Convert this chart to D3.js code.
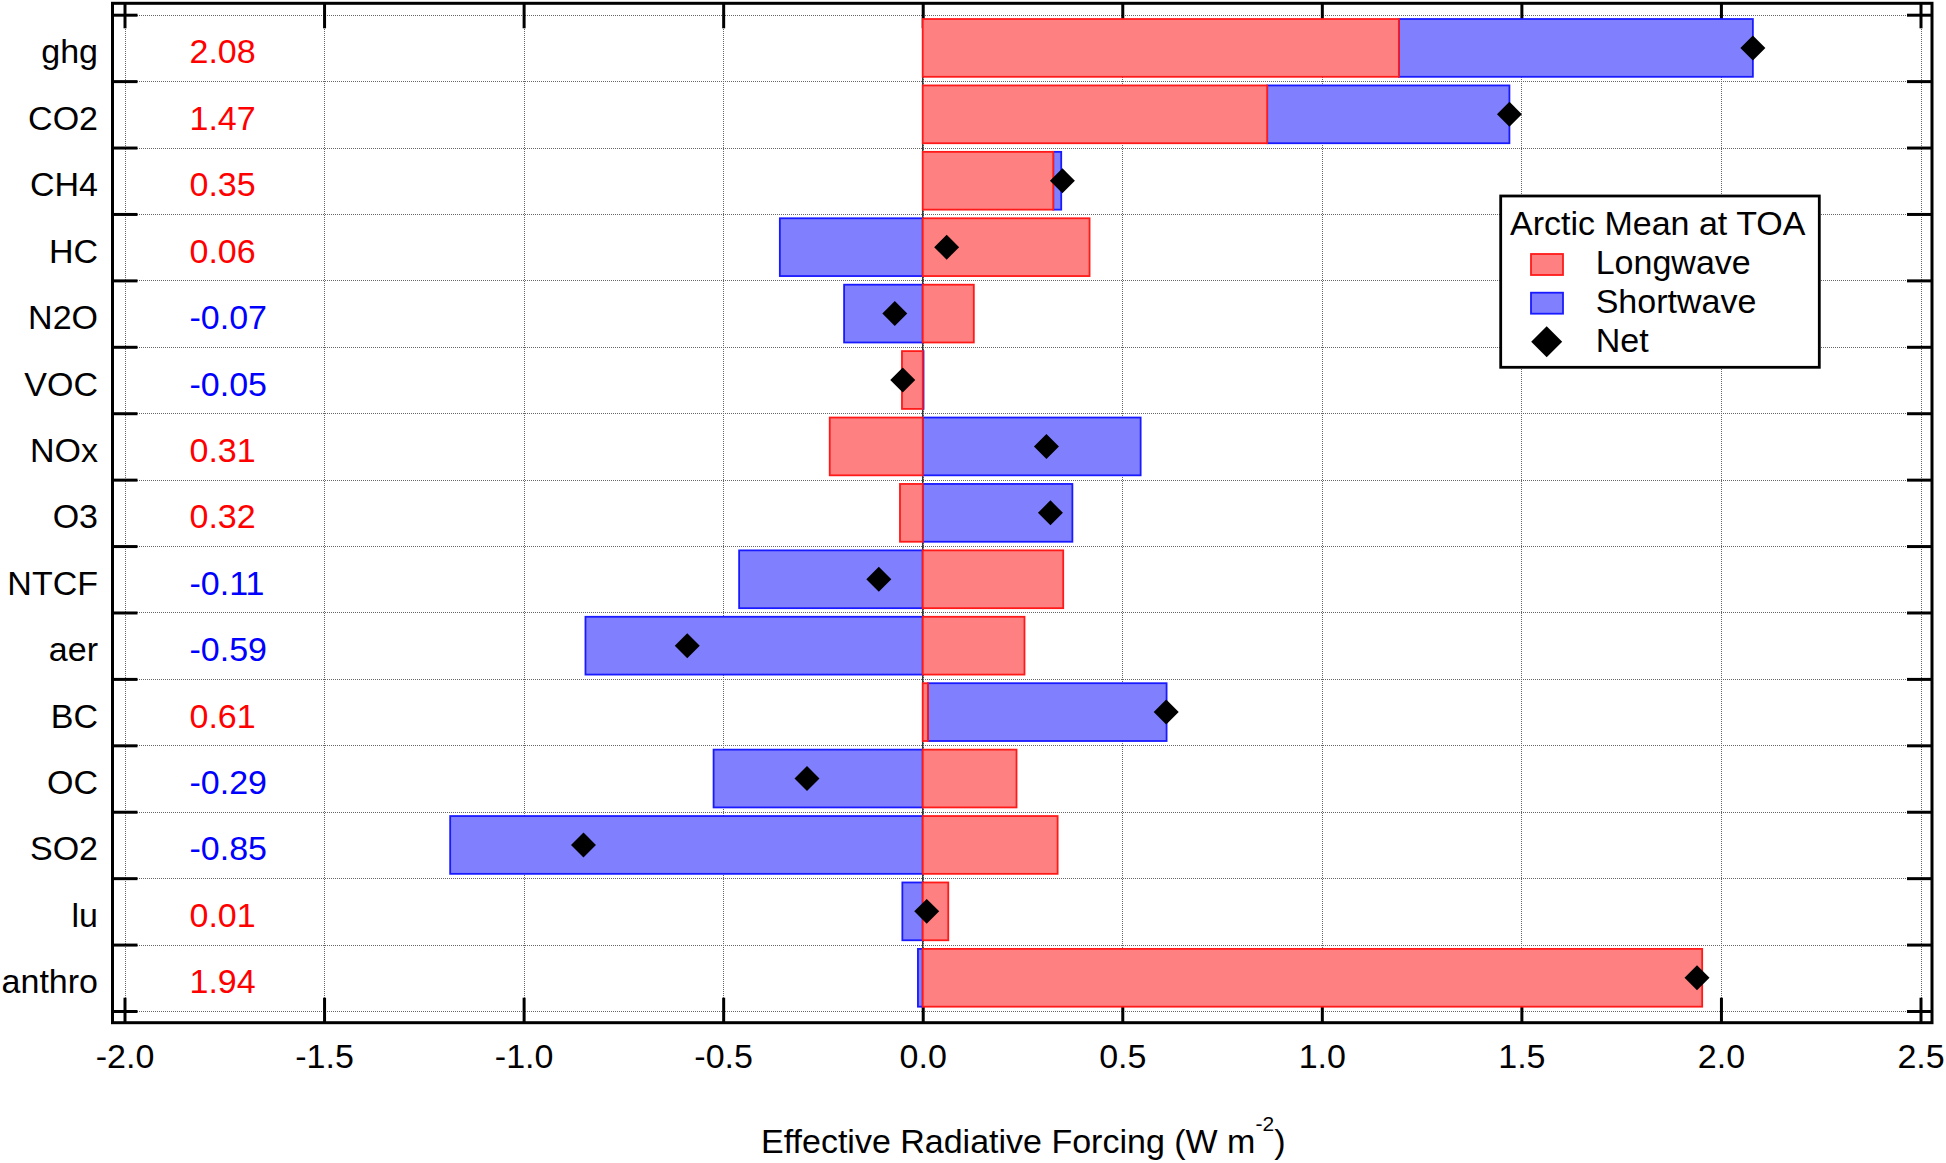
<!DOCTYPE html>
<html>
<head>
<meta charset="utf-8">
<script src="https://cdn.jsdelivr.net/npm/d3@7"></script>
<style>
  html, body { margin: 0; padding: 0; background: #ffffff; }
  svg { display: block; }
  text { font-family: "Liberation Sans", Arial, Helvetica, sans-serif; }
</style>
</head>
<body>
<script>
// ---------------- data ----------------
const categories = ["ghg", "CO2", "CH4", "HC", "N2O", "VOC", "NOx", "O3", "NTCF", "aer", "BC", "OC", "SO2", "lu", "anthro"];
const longwave  = [1.193, 0.863, 0.327, 0.418, 0.128, -0.052, -0.233, -0.057, 0.352, 0.255, 0.013, 0.235, 0.338, 0.064, 1.953];
const shortwave = [0.887, 0.607, 0.020, -0.358, -0.197, 0.002, 0.546, 0.375, -0.460, -0.845, 0.598, -0.524, -1.184, -0.051, -0.012];
const net       = [2.08, 1.47, 0.35, 0.06, -0.07, -0.05, 0.31, 0.32, -0.11, -0.59, 0.61, -0.29, -0.85, 0.01, 1.94];
const xTicks = [-2.0, -1.5, -1.0, -0.5, 0.0, 0.5, 1.0, 1.5, 2.0, 2.5];
const legendTitle = "Arctic Mean at TOA";
const legendLabels = ["Longwave", "Shortwave", "Net"];
const axisTitle = "Effective Radiative Forcing (W m";
const axisTitleSup = "-2";

// ---------------- layout ----------------
const W = 1946, H = 1163;
const frame = { left: 112.5, right: 1932, top: 3.3, bottom: 1022.7 };
const FS = 34;
const LW_FILL = "#ff8080", LW_STROKE = "#ff1a1a";
const SW_FILL = "#8080ff", SW_STROKE = "#1a1aff";
const locale = d3.formatLocale({ decimal: ".", thousands: ",", grouping: [3], currency: ["", ""], minus: "-" });
const fmt1 = locale.format(".1f");
const fmt2 = locale.format(".2f");
const px = v => Math.round(v) + 0.5;

const svg = d3.select("body").append("svg").attr("width", W).attr("height", H);

const x = d3.scaleLinear().domain([-2, 2.5]).range([124.5, 1920.5]);
const yOuter = d3.scaleBand().domain(categories).range([14.7, 1011]);
const y = d3.scaleBand().domain(categories).range([14.7, 1011]).paddingInner(0.13).paddingOuter(0.065);
const yIdx = d3.scaleLinear().domain([0, categories.length]).range([14.7, 1011]);
const boundaries = d3.range(categories.length + 1);

// ---------------- grid ----------------
const grid = svg.append("g").attr("shape-rendering", "crispEdges");
grid.selectAll("line.v").data(xTicks).join("line")
  .attr("x1", d => px(x(d))).attr("x2", d => px(x(d)))
  .attr("y1", Math.round(frame.top)).attr("y2", Math.round(frame.bottom))
  .attr("stroke", "#666").attr("stroke-width", 1).attr("stroke-dasharray", "1,1");
grid.selectAll("line.h").data(boundaries).join("line")
  .attr("x1", Math.round(frame.left)).attr("x2", Math.round(frame.right))
  .attr("y1", d => px(yIdx(d))).attr("y2", d => px(yIdx(d)))
  .attr("stroke", "#666").attr("stroke-width", 1).attr("stroke-dasharray", "1,1");

// zero line
svg.append("line")
  .attr("x1", x(0)).attr("x2", x(0)).attr("y1", frame.top).attr("y2", frame.bottom)
  .attr("stroke", "#3a3a3a").attr("stroke-width", 1.5);

// ---------------- ticks (axes) ----------------
const tickLen = 25;
const topAxis = svg.append("g").attr("transform", `translate(0,${frame.top})`)
  .call(d3.axisTop(x).tickValues(xTicks).tickSize(-tickLen).tickFormat(""));
const bottomAxis = svg.append("g").attr("transform", `translate(0,${frame.bottom})`)
  .call(d3.axisBottom(x).tickValues(xTicks).tickSize(-tickLen).tickPadding(21).tickFormat(fmt1));
const leftAxis = svg.append("g").attr("transform", `translate(${frame.left},0)`)
  .call(d3.axisLeft(yIdx).tickValues(boundaries).tickSize(-tickLen).tickFormat(""));
const rightAxis = svg.append("g").attr("transform", `translate(${frame.right},0)`)
  .call(d3.axisRight(yIdx).tickValues(boundaries).tickSize(-tickLen).tickFormat(""));
[topAxis, bottomAxis, leftAxis, rightAxis].forEach(g => {
  g.select(".domain").remove();
  g.selectAll(".tick line").attr("stroke", "#000").attr("stroke-width", 3);
});
bottomAxis.selectAll(".tick text")
  .attr("font-family", "Liberation Sans, Arial, sans-serif")
  .attr("font-size", FS).attr("fill", "#000");

// frame
svg.append("rect")
  .attr("x", frame.left).attr("y", frame.top)
  .attr("width", frame.right - frame.left).attr("height", frame.bottom - frame.top)
  .attr("fill", "none").attr("stroke", "#000").attr("stroke-width", 3);

// ---------------- bars ----------------
const rows = categories.map((c, i) => {
  const lw = longwave[i], sw = shortwave[i];
  const swStart = (Math.sign(sw) === Math.sign(lw)) ? lw : 0;
  return { c, lw, sw, swStart, swEnd: swStart + sw, net: net[i] };
});

svg.append("g").selectAll("rect").data(rows).join("rect")
  .attr("x", d => x(Math.min(d.swStart, d.swEnd)))
  .attr("width", d => Math.abs(x(d.swEnd) - x(d.swStart)))
  .attr("y", d => y(d.c)).attr("height", y.bandwidth())
  .attr("fill", SW_FILL).attr("stroke", SW_STROKE).attr("stroke-width", 1.8);

svg.append("g").selectAll("rect").data(rows).join("rect")
  .attr("x", d => x(Math.min(0, d.lw)))
  .attr("width", d => Math.abs(x(d.lw) - x(0)))
  .attr("y", d => y(d.c)).attr("height", y.bandwidth())
  .attr("fill", LW_FILL).attr("stroke", LW_STROKE).attr("stroke-width", 1.8);

// net diamonds
const diamond = d3.symbol().type(d3.symbolSquare).size(312);
svg.append("g").selectAll("path").data(rows).join("path")
  .attr("d", diamond)
  .attr("transform", d => `translate(${x(d.net)},${y(d.c) + y.bandwidth() / 2}) rotate(45)`)
  .attr("fill", "#000");

// ---------------- labels ----------------
svg.append("g").selectAll("text").data(rows).join("text")
  .attr("x", 98).attr("y", d => yOuter(d.c) + yOuter.bandwidth() / 2 + 15.5)
  .attr("text-anchor", "end").attr("font-size", FS).attr("fill", "#000")
  .text(d => d.c);

svg.append("g").selectAll("text").data(rows).join("text")
  .attr("x", 189.5).attr("y", d => yOuter(d.c) + yOuter.bandwidth() / 2 + 15.5)
  .attr("text-anchor", "start").attr("font-size", FS)
  .attr("fill", d => d.net < 0 ? "#0000ff" : "#ff0000")
  .text(d => fmt2(d.net));

// axis title
const title = svg.append("text")
  .attr("x", (frame.left + frame.right) / 2 + 1).attr("y", 1153)
  .attr("text-anchor", "middle").attr("font-size", FS).attr("fill", "#000");
title.append("tspan").text(axisTitle);
title.append("tspan").attr("dy", -22).attr("font-size", 21).text(axisTitleSup);
title.append("tspan").attr("dy", 22).attr("font-size", FS).text(")");

// ---------------- legend ----------------
const lg = svg.append("g");
lg.append("rect")
  .attr("x", 1500.7).attr("y", 196).attr("width", 318.6).attr("height", 171.3)
  .attr("fill", "#fff").attr("stroke", "#000").attr("stroke-width", 2.8);
lg.append("text").attr("x", 1510).attr("y", 235)
  .attr("font-size", FS).attr("fill", "#000").text(legendTitle);
const rowBase = [274, 312.7, 351.7];
const fills = [[LW_FILL, LW_STROKE], [SW_FILL, SW_STROKE]];
fills.forEach((f, i) => {
  lg.append("rect").attr("x", 1531).attr("y", rowBase[i] - 20).attr("width", 32).attr("height", 21)
    .attr("fill", f[0]).attr("stroke", f[1]).attr("stroke-width", 1.8);
});
lg.append("path").attr("d", d3.symbol().type(d3.symbolSquare).size(480))
  .attr("transform", `translate(1546.7,${rowBase[2] - 10}) rotate(45)`).attr("fill", "#000");
lg.selectAll("text.item").data(legendLabels).join("text")
  .attr("class", "item")
  .attr("x", 1595.7).attr("y", (d, i) => rowBase[i])
  .attr("font-size", FS).attr("fill", "#000").text(d => d);
</script>
</body>
</html>
